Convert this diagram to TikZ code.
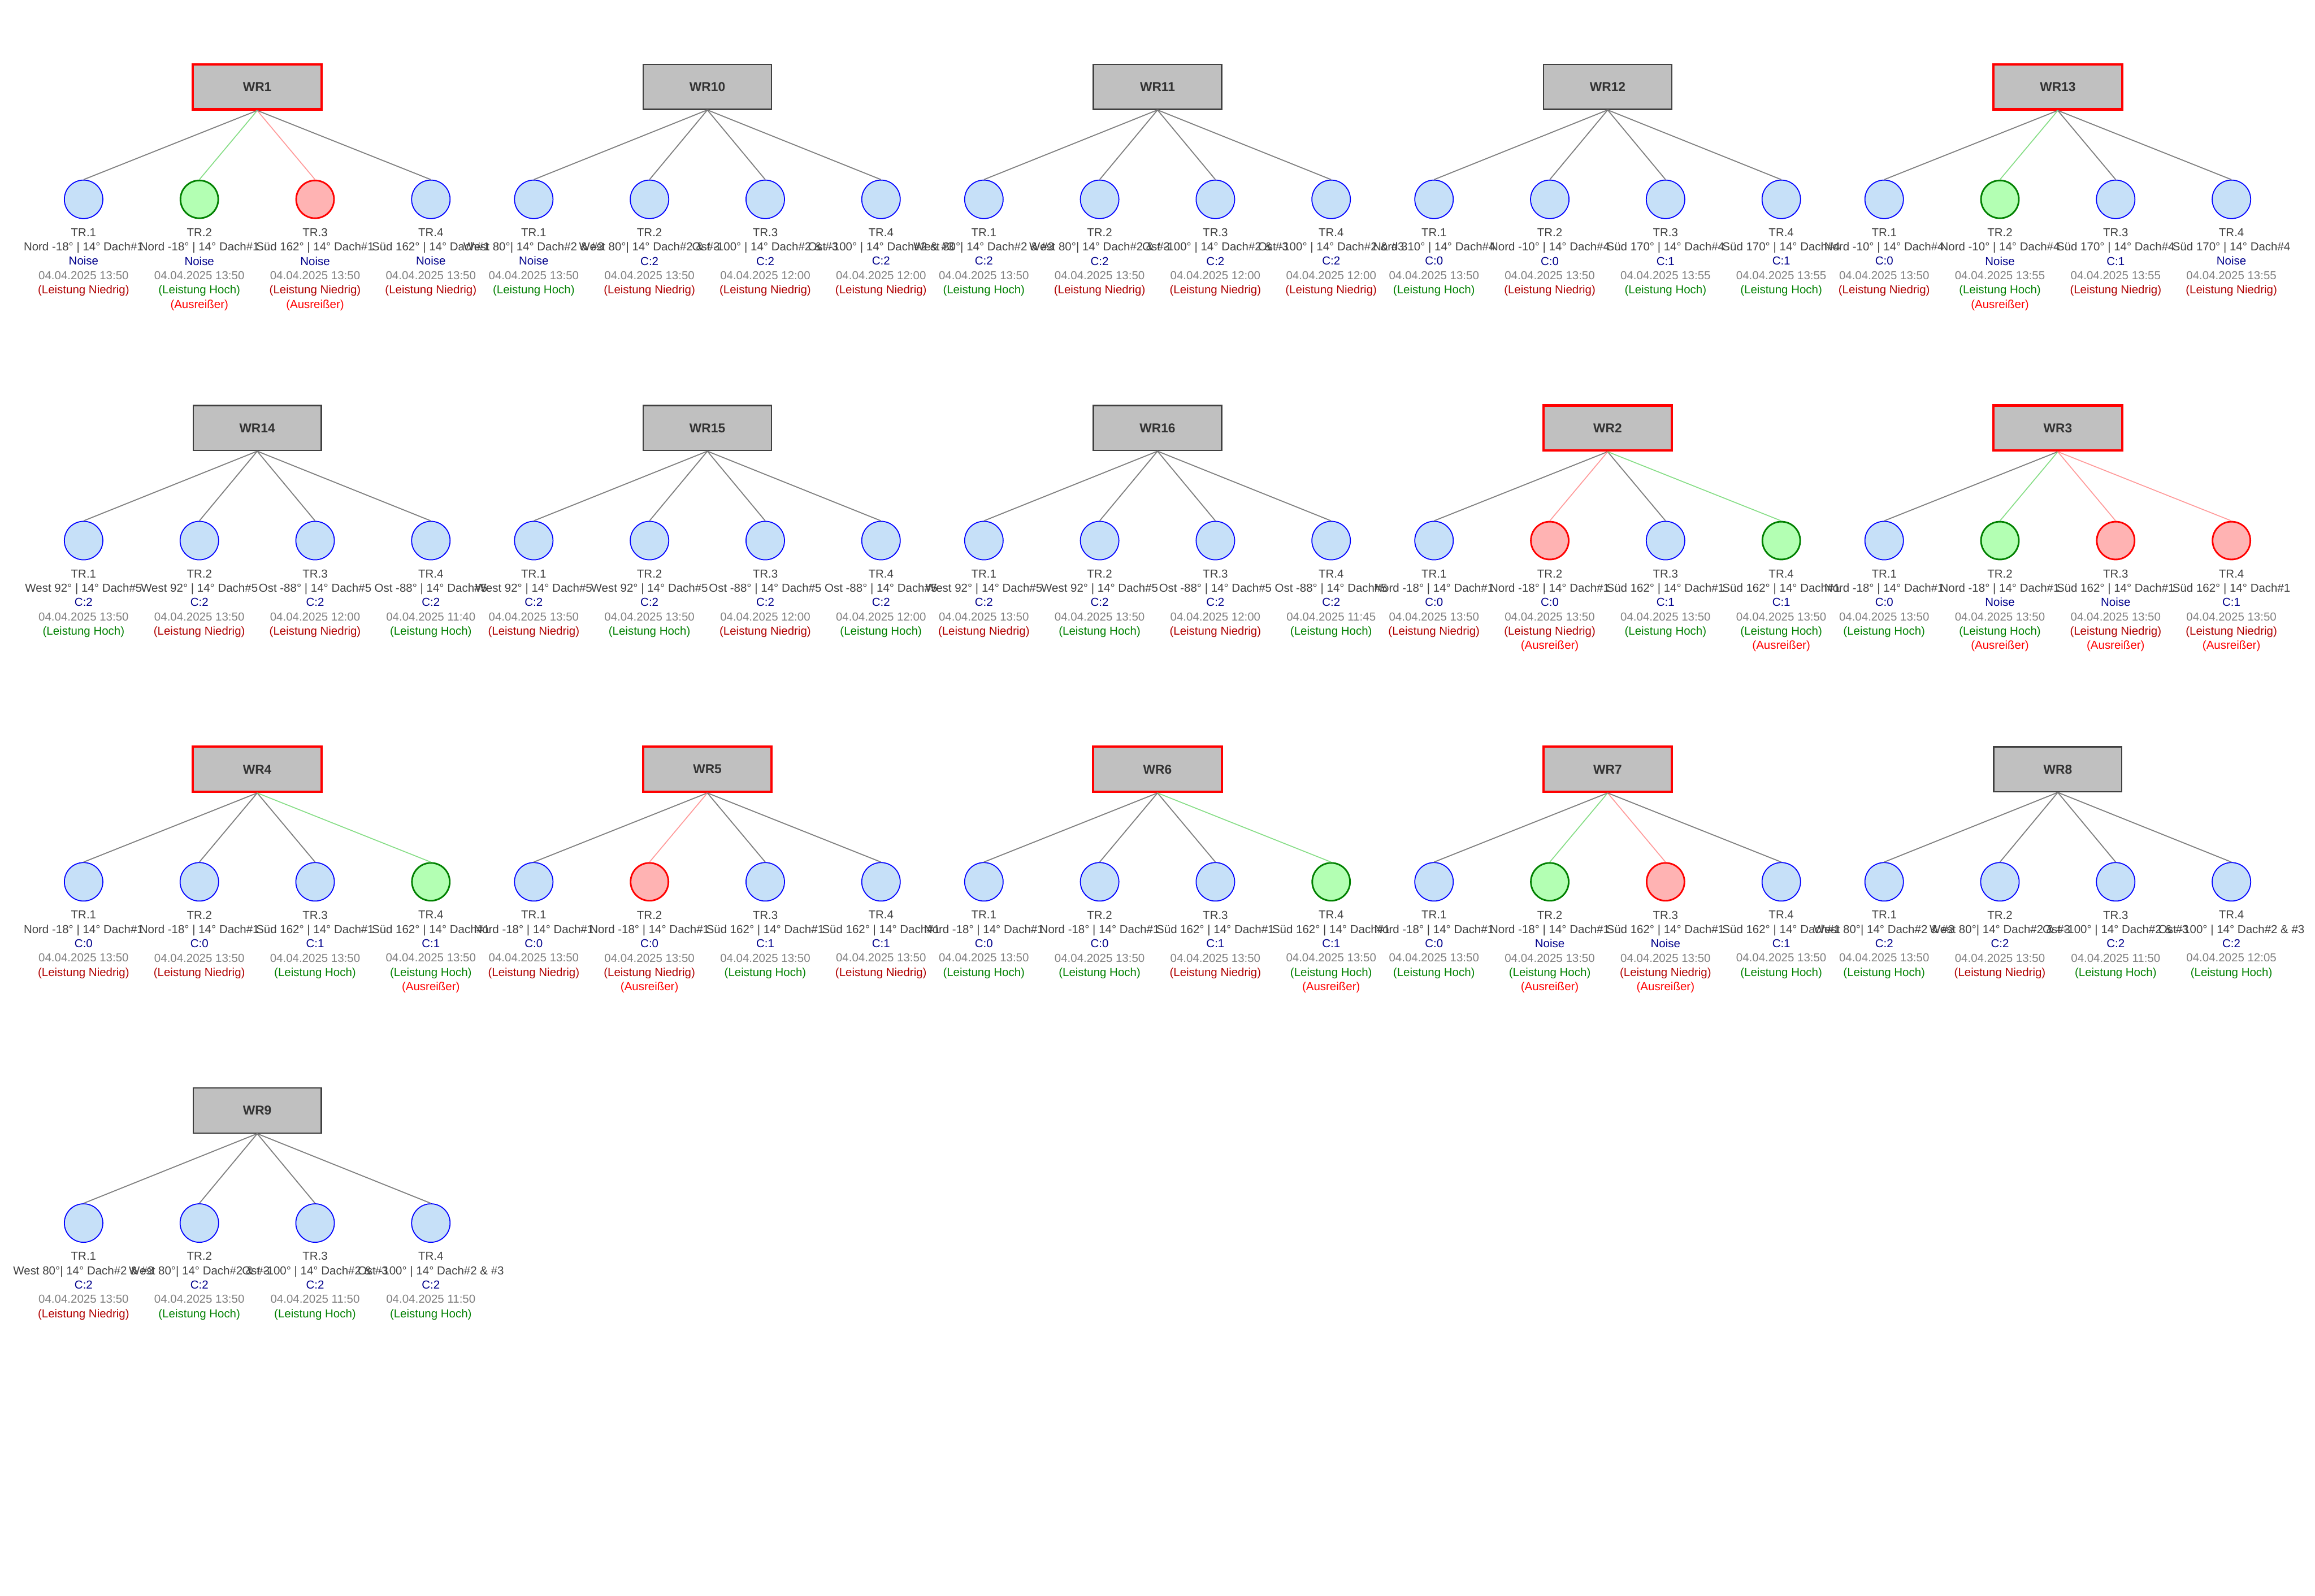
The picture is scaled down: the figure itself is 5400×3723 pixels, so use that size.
\documentclass[tikz,border=0pt]{standalone}
\usepackage{fontspec}
\setmainfont{Liberation Sans}
\definecolor{boxfill}{HTML}{C0C0C0}
\definecolor{boxline}{HTML}{404040}
\definecolor{wrtext}{HTML}{333333}
\definecolor{cblue}{HTML}{C6E0F8}
\definecolor{cgreen}{HTML}{B3FFB3}
\definecolor{cred}{HTML}{FFB3B3}
\definecolor{dgreen}{HTML}{008000}
\definecolor{egray}{HTML}{808080}
\definecolor{egreen}{HTML}{85DD85}
\definecolor{ered}{HTML}{FF9999}
\definecolor{trtext}{HTML}{404040}
\definecolor{ortext}{HTML}{404040}
\definecolor{cltext}{HTML}{00008B}
\definecolor{dttext}{HTML}{808080}
\definecolor{hoch}{HTML}{008000}
\definecolor{nied}{HTML}{B00000}
\definecolor{ausr}{HTML}{FF0000}
\tikzset{
  wrbox/.style={rectangle, fill=boxfill, draw=boxline, line width=1.5pt,
    minimum width=149.5pt, minimum height=52.5pt, inner sep=0pt,
    font=\fontsize{15}{18}\selectfont\bfseries, text=wrtext},
  wrboxalert/.style={wrbox, draw=red, line width=2.75pt,
    minimum width=150pt, minimum height=52.5pt},
  trn/.style={circle, fill=cblue, draw=blue, line width=1.15pt, minimum size=44.9pt, inner sep=0pt},
  trg/.style={circle, fill=cgreen, draw=dgreen, line width=1.9pt, minimum size=44.1pt, inner sep=0pt},
  trr/.style={circle, fill=cred, draw=red, line width=1.9pt, minimum size=44.1pt, inner sep=0pt},
  edn/.style={draw=egray, line width=1.2pt},
  edg/.style={draw=egreen, line width=1.1pt},
  edr/.style={draw=ered, line width=1.1pt},
  lbl/.style={align=center, inner sep=0pt, anchor=north, font=\fontsize{13.5}{16.7}\selectfont},
}
\newcommand\oNord{Nord -18° | 14° Dach\#1}
\newcommand\oSued{Süd 162° | 14° Dach\#1}
\newcommand\oWestA{West 80°| 14° Dach\#2 \& \#3}
\newcommand\oOstA{Ost -100° | 14° Dach\#2 \& \#3}
\newcommand\oNordB{Nord -10° | 14° Dach\#4}
\newcommand\oNordC{Nord 310° | 14° Dach\#4}
\newcommand\oSuedB{Süd 170° | 14° Dach\#4}
\newcommand\oWestB{West 92° | 14° Dach\#5}
\newcommand\oOstB{Ost -88° | 14° Dach\#5}
\newcommand\perfH{{\color{hoch}(Leistung Hoch)}}
\newcommand\perfN{{\color{nied}(Leistung Niedrig)}}
\newcommand\ausn{}
\newcommand\ausg{\\{\color{ausr}(Ausreißer)}}
\newcommand\ausr{\\{\color{ausr}(Ausreißer)}}
\newcommand{\wrgroup}[4]{%
  \pgfmathsetmacro\grpx{600+1050*#2}%
  \pgfmathsetmacro\grpy{202.5+796*#3}%
  \def\curbox{#1}%
  \node[#4] (#1) at (\grpx,\grpy) {#1};%
}
\newcommand{\trcirc}[6]{%
  \pgfmathsetmacro\cx{\grpx+270*(#1-2.5)}%
  \node[tr#2] (\curbox-#1) at (\cx,\grpy+262.5) {};%
  \draw[ed#2] (\curbox.south) -- (\curbox-#1.north);%
  \node[lbl] (\curbox-#1-l) at (\cx,\grpy+330) {{\color{trtext}TR.#1}\\{\color{ortext}#3}\\{\color{cltext}#4}\\{\color{dttext}04.04.2025 #5}\\\csname perf#6\endcsname\csname aus#2\endcsname};%
}
\begin{document}
\begin{tikzpicture}[x=0.5pt,y=-0.5pt]
\fill[white] (0,0) rectangle (5400,3723);
\useasboundingbox (0,0) rectangle (5400,3723);
% Row 1
\wrgroup{WR1}{0}{0}{wrboxalert}
\trcirc{1}{n}{\oNord}{Noise}{13:50}{N}
\trcirc{2}{g}{\oNord}{Noise}{13:50}{H}
\trcirc{3}{r}{\oSued}{Noise}{13:50}{N}
\trcirc{4}{n}{\oSued}{Noise}{13:50}{N}
\wrgroup{WR10}{1}{0}{wrbox}
\trcirc{1}{n}{\oWestA}{Noise}{13:50}{H}
\trcirc{2}{n}{\oWestA}{C:2}{13:50}{N}
\trcirc{3}{n}{\oOstA}{C:2}{12:00}{N}
\trcirc{4}{n}{\oOstA}{C:2}{12:00}{N}
\wrgroup{WR11}{2}{0}{wrbox}
\trcirc{1}{n}{\oWestA}{C:2}{13:50}{H}
\trcirc{2}{n}{\oWestA}{C:2}{13:50}{N}
\trcirc{3}{n}{\oOstA}{C:2}{12:00}{N}
\trcirc{4}{n}{\oOstA}{C:2}{12:00}{N}
\wrgroup{WR12}{3}{0}{wrbox}
\trcirc{1}{n}{\oNordC}{C:0}{13:50}{H}
\trcirc{2}{n}{\oNordB}{C:0}{13:50}{N}
\trcirc{3}{n}{\oSuedB}{C:1}{13:55}{H}
\trcirc{4}{n}{\oSuedB}{C:1}{13:55}{H}
\wrgroup{WR13}{4}{0}{wrboxalert}
\trcirc{1}{n}{\oNordB}{C:0}{13:50}{N}
\trcirc{2}{g}{\oNordB}{Noise}{13:55}{H}
\trcirc{3}{n}{\oSuedB}{C:1}{13:55}{N}
\trcirc{4}{n}{\oSuedB}{Noise}{13:55}{N}
% Row 2
\wrgroup{WR14}{0}{1}{wrbox}
\trcirc{1}{n}{\oWestB}{C:2}{13:50}{H}
\trcirc{2}{n}{\oWestB}{C:2}{13:50}{N}
\trcirc{3}{n}{\oOstB}{C:2}{12:00}{N}
\trcirc{4}{n}{\oOstB}{C:2}{11:40}{H}
\wrgroup{WR15}{1}{1}{wrbox}
\trcirc{1}{n}{\oWestB}{C:2}{13:50}{N}
\trcirc{2}{n}{\oWestB}{C:2}{13:50}{H}
\trcirc{3}{n}{\oOstB}{C:2}{12:00}{N}
\trcirc{4}{n}{\oOstB}{C:2}{12:00}{H}
\wrgroup{WR16}{2}{1}{wrbox}
\trcirc{1}{n}{\oWestB}{C:2}{13:50}{N}
\trcirc{2}{n}{\oWestB}{C:2}{13:50}{H}
\trcirc{3}{n}{\oOstB}{C:2}{12:00}{N}
\trcirc{4}{n}{\oOstB}{C:2}{11:45}{H}
\wrgroup{WR2}{3}{1}{wrboxalert}
\trcirc{1}{n}{\oNord}{C:0}{13:50}{N}
\trcirc{2}{r}{\oNord}{C:0}{13:50}{N}
\trcirc{3}{n}{\oSued}{C:1}{13:50}{H}
\trcirc{4}{g}{\oSued}{C:1}{13:50}{H}
\wrgroup{WR3}{4}{1}{wrboxalert}
\trcirc{1}{n}{\oNord}{C:0}{13:50}{H}
\trcirc{2}{g}{\oNord}{Noise}{13:50}{H}
\trcirc{3}{r}{\oSued}{Noise}{13:50}{N}
\trcirc{4}{r}{\oSued}{C:1}{13:50}{N}
% Row 3
\wrgroup{WR4}{0}{2}{wrboxalert}
\trcirc{1}{n}{\oNord}{C:0}{13:50}{N}
\trcirc{2}{n}{\oNord}{C:0}{13:50}{N}
\trcirc{3}{n}{\oSued}{C:1}{13:50}{H}
\trcirc{4}{g}{\oSued}{C:1}{13:50}{H}
\wrgroup{WR5}{1}{2}{wrboxalert}
\trcirc{1}{n}{\oNord}{C:0}{13:50}{N}
\trcirc{2}{r}{\oNord}{C:0}{13:50}{N}
\trcirc{3}{n}{\oSued}{C:1}{13:50}{H}
\trcirc{4}{n}{\oSued}{C:1}{13:50}{N}
\wrgroup{WR6}{2}{2}{wrboxalert}
\trcirc{1}{n}{\oNord}{C:0}{13:50}{H}
\trcirc{2}{n}{\oNord}{C:0}{13:50}{H}
\trcirc{3}{n}{\oSued}{C:1}{13:50}{N}
\trcirc{4}{g}{\oSued}{C:1}{13:50}{H}
\wrgroup{WR7}{3}{2}{wrboxalert}
\trcirc{1}{n}{\oNord}{C:0}{13:50}{H}
\trcirc{2}{g}{\oNord}{Noise}{13:50}{H}
\trcirc{3}{r}{\oSued}{Noise}{13:50}{N}
\trcirc{4}{n}{\oSued}{C:1}{13:50}{H}
\wrgroup{WR8}{4}{2}{wrbox}
\trcirc{1}{n}{\oWestA}{C:2}{13:50}{H}
\trcirc{2}{n}{\oWestA}{C:2}{13:50}{N}
\trcirc{3}{n}{\oOstA}{C:2}{11:50}{H}
\trcirc{4}{n}{\oOstA}{C:2}{12:05}{H}
% Row 4
\wrgroup{WR9}{0}{3}{wrbox}
\trcirc{1}{n}{\oWestA}{C:2}{13:50}{N}
\trcirc{2}{n}{\oWestA}{C:2}{13:50}{H}
\trcirc{3}{n}{\oOstA}{C:2}{11:50}{H}
\trcirc{4}{n}{\oOstA}{C:2}{11:50}{H}
\end{tikzpicture}
\end{document}
